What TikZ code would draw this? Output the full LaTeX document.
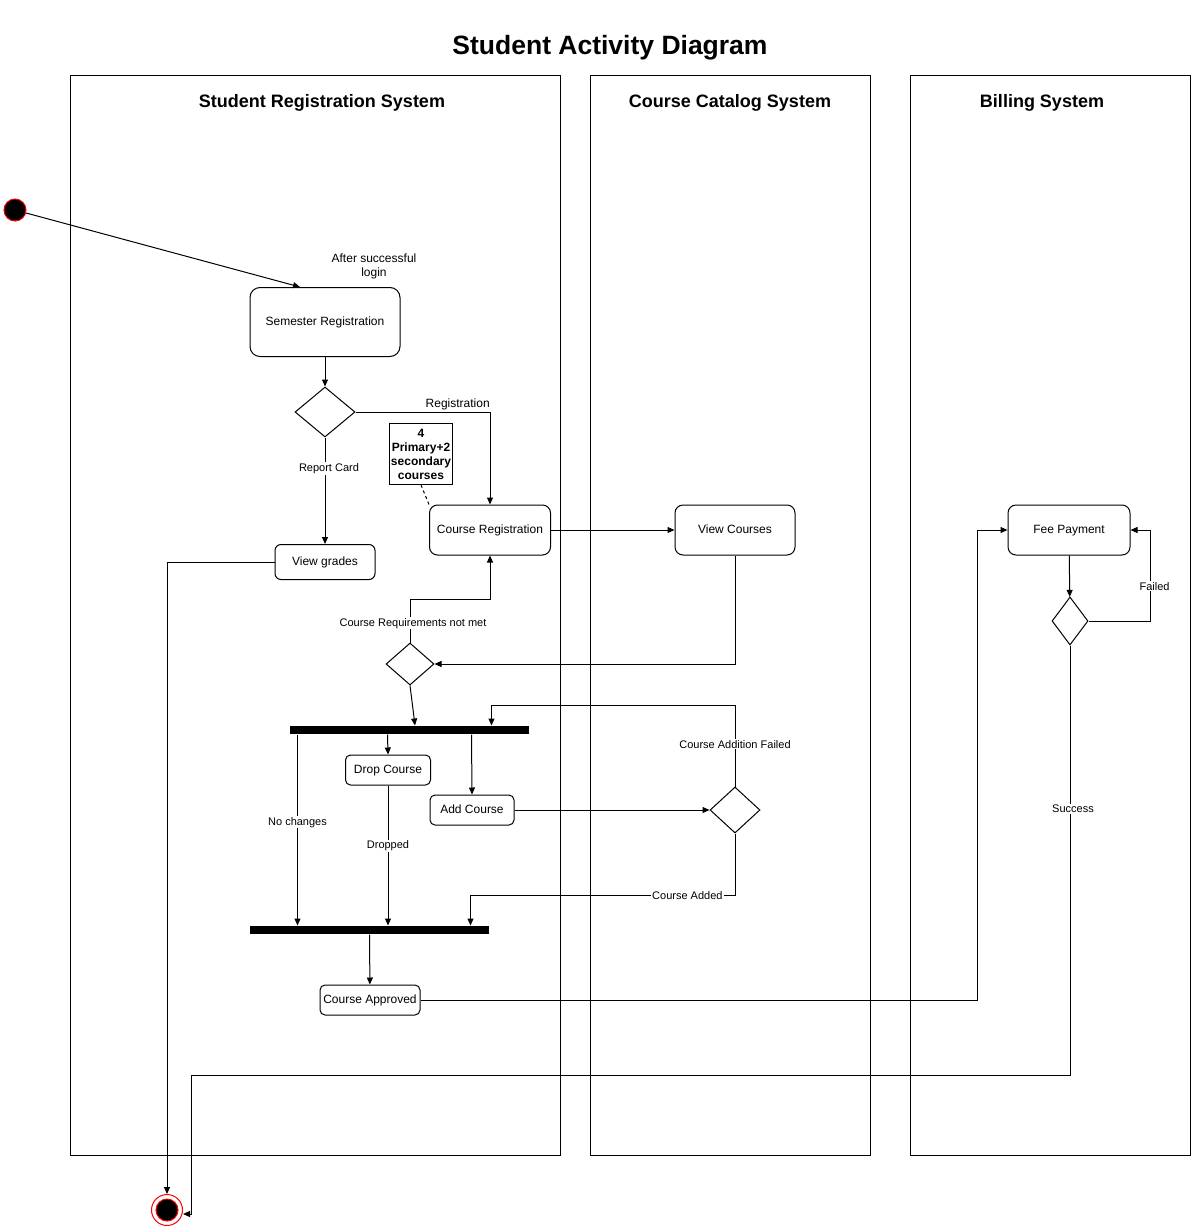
\documentclass[tikz,border=0pt]{standalone}
\usepackage{fontspec}
\setmainfont{Liberation Sans}
\usepackage{tikz}
\usetikzlibrary{arrows.meta,calc,positioning,shapes.geometric}

\begin{document}
\begin{tikzpicture}[x=1pt,y=-1pt,line width=1pt,
    arr/.style={-{Triangle[length=7pt,width=6pt]}},
    act/.style={draw,rectangle,rounded corners=6pt,font=\fontsize{12}{14}\selectfont,inner sep=0pt,text depth=1pt},
    cond/.style={draw,diamond,inner sep=0pt},
    bar/.style={fill=black,rectangle,inner sep=0pt,minimum height=8pt},
    lbl/.style={font=\fontsize{11}{13}\selectfont,inner sep=1pt},
    lane/.style={font=\bfseries\fontsize{18}{21}\selectfont}]
  \useasboundingbox (0,0) rectangle (1191,1226);
  % swimlanes
  \node[font=\bfseries\fontsize{26.5}{30}\selectfont] (title) at (610,48) {Student Activity Diagram};
  \draw (70,75) rectangle (560,1155);
  \draw (590,75) rectangle (870,1155);
  \draw (910,75) rectangle (1190,1155);
  \node[lane] (srs) at (322,103) {Student Registration System};
  \node[lane] (ccs) at (730,103) {Course Catalog System};
  \node[lane] (bs) at (1042,103) {Billing System};

  \node[circle,fill=black,draw=red,minimum size=22pt,inner sep=0pt] (start) at (15,210) {};
  \node[circle,draw=red,fill=white,minimum size=31pt,inner sep=0pt,
    path picture={\filldraw[red,fill=black] (path picture bounding box.center) circle (11);}] (finish) at (167,1210) {};

  \node[act,rounded corners=10pt,minimum width=150pt,minimum height=69pt] (semreg) at (325,322) {Semester Registration};
  \node[font=\fontsize{12}{14}\selectfont,align=center] (login) at (374,266) {After successful\\login};
  \node[cond,minimum width=60pt,minimum height=50pt] (d1) at (325,412) {};
  \node[act,minimum width=100pt,minimum height=35pt] (grades) at (325,562) {View grades};
  \node[draw,rectangle,font=\bfseries\fontsize{12}{14}\selectfont,align=center,inner sep=1pt,minimum width=62pt,minimum height=61pt] (note) at (421,454) {4\\Primary+2\\secondary\\courses};
  \node[act,rounded corners=8pt,minimum width=121pt,minimum height=50pt] (creg) at (490,530) {Course Registration};
  \node[act,rounded corners=8pt,minimum width=120pt,minimum height=50pt] (vcourses) at (735,530) {View Courses};
  \node[cond,minimum width=48pt,minimum height=42pt] (d2) at (410,664) {};
  \node[bar,minimum width=239pt] (fork) at (409.5,730) {};
  \node[act,rounded corners=5pt,minimum width=85pt,minimum height=30pt] (drop) at (388,770) {Drop Course};
  \node[act,rounded corners=5pt,minimum width=84pt,minimum height=30pt] (add) at (472,810) {Add Course};
  \node[cond,minimum width=50pt,minimum height=46pt] (d3) at (735,810) {};
  \node[bar,minimum width=239pt] (join) at (369.5,930) {};
  \node[act,rounded corners=5pt,minimum width=100pt,minimum height=30pt] (approved) at (370,1000) {Course Approved};
  \node[act,rounded corners=8pt,minimum width=122pt,minimum height=50pt] (fee) at (1069,530) {Fee Payment};
  \node[cond,minimum width=36pt,minimum height=48pt] (d4) at (1070,621) {};

  \draw[arr] (start) -- ($(semreg.north)+(-25,0)$);
  \draw[arr] (semreg) -- (d1);
  \draw[arr] (d1.east) -| node[lbl,font=\fontsize{12}{14}\selectfont,pos=0.38,above=1pt] {Registration} (creg.north);
  \draw[arr] (d1) -- node[lbl,fill=white,pos=0.29,xshift=4pt] {Report Card} (grades);
  \draw[dashed] (note.south) -- (creg.north west);
  \draw[arr] (creg) -- (vcourses);
  \draw[arr] (vcourses.south) |- (d2.east);
  \draw[arr] (d2.north) -- node[lbl,fill=white,pos=0.45,xshift=3pt] {Course Requirements not met} ++(0,-43) -| (creg.south);
  \draw[arr] (d2.south) -- ($(fork.north)+(5.5,0)$);
  \draw[arr] ($(fork.south west)+(8,0)$) -- node[lbl,fill=white,pos=0.46] {No changes} ($(join.north west)+(48,0)$);
  \draw[arr] ($(fork.south west)+(98,0)$) -- (drop.north);
  \draw[arr] ($(fork.south west)+(182,0)$) -- (add.north);
  \draw[arr] (drop.south) -- node[lbl,fill=white,pos=0.43] {Dropped} (drop.south |- join.north);
  \draw[arr] (add) -- (d3);
  \draw[arr] (d3.north) -- node[lbl,fill=white,pos=0.52] {Course Addition Failed} ++(0,-81) -| ($(fork.north west)+(202,0)$);
  \draw[arr] (d3.south) |- node[lbl,fill=white,pos=0.59] {Course Added} ($(join.north west)+(221,-30)$) -- ($(join.north west)+(221,0)$);
  \draw[arr] (join) -- (approved);
  \draw[arr] (approved.east) -- ++(557,0) |- (fee.west);
  \draw[arr] (fee) -- (d4);
  \draw[arr] (d4.east) -- ++(62,0) |- node[lbl,fill=white,pos=0.19,xshift=4pt] {Failed} (fee.east);
  \draw[arr] (d4.south) -- node[lbl,fill=white,pos=0.38,xshift=3pt] {Success} ++(0,430) -| ($(finish.east)+(8,4)$) -- ($(finish.east)+(0,4)$);
  \draw[arr] (grades.west) -| (finish.north);
\end{tikzpicture}
\end{document}
